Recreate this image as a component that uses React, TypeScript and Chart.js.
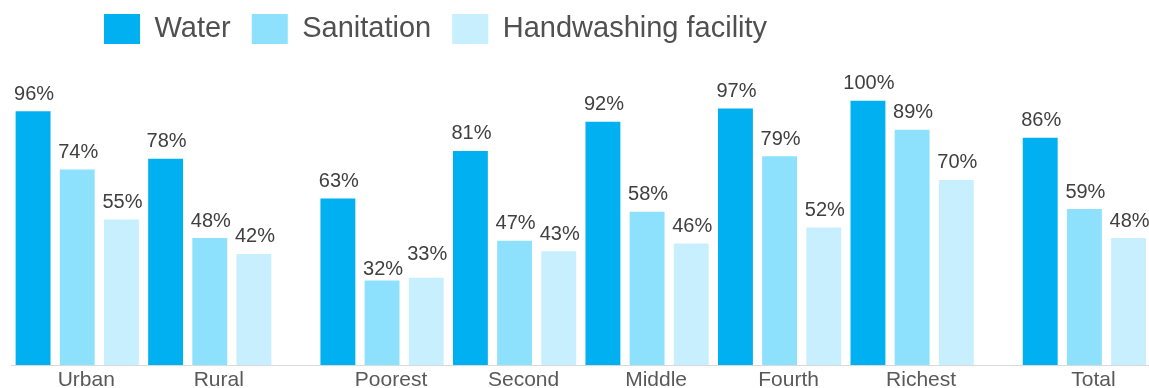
import React, { useEffect, useRef } from 'react';
import { Chart, registerables } from 'chart.js';

Chart.register(...registerables);

// ---- data ----
const categories = ['Urban', 'Rural', 'Poorest', 'Second', 'Middle', 'Fourth', 'Richest', 'Total'];
const clusters = [0, 0, 1, 1, 1, 1, 1, 2]; // residence | wealth quintile | total
const seriesNames = ['Water', 'Sanitation', 'Handwashing facility'];
const water = [96, 78, 63, 81, 92, 97, 100, 86];
const sanitation = [74, 48, 32, 47, 58, 79, 89, 59];
const handwashing = [55, 42, 33, 43, 46, 52, 70, 48];

// ---- styles ----
const seriesColors = ['#00B0F0', '#8EE1FC', '#C7EFFD'];
const FONT = "'Liberation Sans', Arial, sans-serif";
const CLUSTER_GAP = 0.3;
const labelNudges: Record<string, number> = {
  'Poorest|Sanitation': 6,
  'Poorest|Handwashing facility': -6,
};

const xPos = categories.map((_, i) => i + clusters[i] * CLUSTER_GAP);
const seriesValues = [water, sanitation, handwashing];

const legendShift = {
  id: 'legendShift',
  afterLayout(chart: any) {
    const l = chart.legend;
    if (!l) return;
    l.left += 72;
    l.right += 72;
    l.top -= 7;
    l.bottom -= 7;
  },
};

const valueLabels = {
  id: 'valueLabels',
  afterDatasetsDraw(chart: any) {
    const ctx = chart.ctx;
    ctx.save();
    ctx.font = `20px ${FONT}`;
    ctx.fillStyle = '#404040';
    ctx.textAlign = 'center';
    ctx.textBaseline = 'alphabetic';
    chart.data.datasets.forEach((ds: any, di: number) => {
      const meta = chart.getDatasetMeta(di);
      meta.data.forEach((bar: any, i: number) => {
        const v = ds.data[i].y;
        const nudge = labelNudges[`${categories[i]}|${ds.label}`] || 0;
        ctx.fillText(`${v}%`, bar.x + 1, bar.y - 11.5 + nudge);
      });
    });
    ctx.restore();
  },
};

export default function App() {
  const ref = useRef<HTMLCanvasElement>(null);

  useEffect(() => {
    if (!ref.current) return;
    Chart.defaults.font.family = FONT;
    const chart = new Chart(ref.current, {
      type: 'bar',
      data: {
        datasets: seriesNames.map((name, si) => ({
          label: name,
          data: seriesValues[si].map((v, i) => ({ x: xPos[i], y: v })),
          backgroundColor: seriesColors[si],
          borderWidth: 0,
          categoryPercentage: 1,
          barPercentage: 0.79,
        })),
      },
      options: {
        responsive: false,
        animation: false,
        devicePixelRatio: 1,
        layout: { padding: { left: 11, right: 1, top: 0, bottom: -8 } },
        plugins: {
          tooltip: { enabled: false },
          legend: {
            display: true,
            position: 'top',
            align: 'start',
            labels: {
              boxWidth: 36,
              boxHeight: 30,
              padding: 21,
              color: '#505050',
              font: { size: 29, family: FONT },
            },
          },
        },
        scales: {
          x: {
            type: 'linear',
            offset: false,
            min: -0.5,
            max: 8.08,
            grid: { display: false, drawTicks: false, offset: false },
            border: { display: true, color: '#D9D9D9', width: 1 },
            afterBuildTicks: (scale: any) => {
              scale.ticks = xPos.map((v) => ({ value: v }));
            },
            ticks: {
              autoSkip: false,
              maxRotation: 0,
              minRotation: 0,
              padding: 5,
              labelOffset: 9,
              color: '#595959',
              font: { size: 21, family: FONT, lineHeight: 1 },
              callback: (_v: any, index: number) => categories[index],
            },
          },
          y: {
            display: false,
            min: 0,
            max: 115,
          },
        },
      },
      plugins: [legendShift, valueLabels],
    } as any);
    return () => chart.destroy();
  }, []);

  return (
    <div style={{ position: 'absolute', left: 0, top: 0, width: 1149, height: 388, background: '#fff' }}>
      <canvas ref={ref} width={1149} height={388} style={{ display: 'block', width: 1149, height: 388 }} />
    </div>
  );
}
